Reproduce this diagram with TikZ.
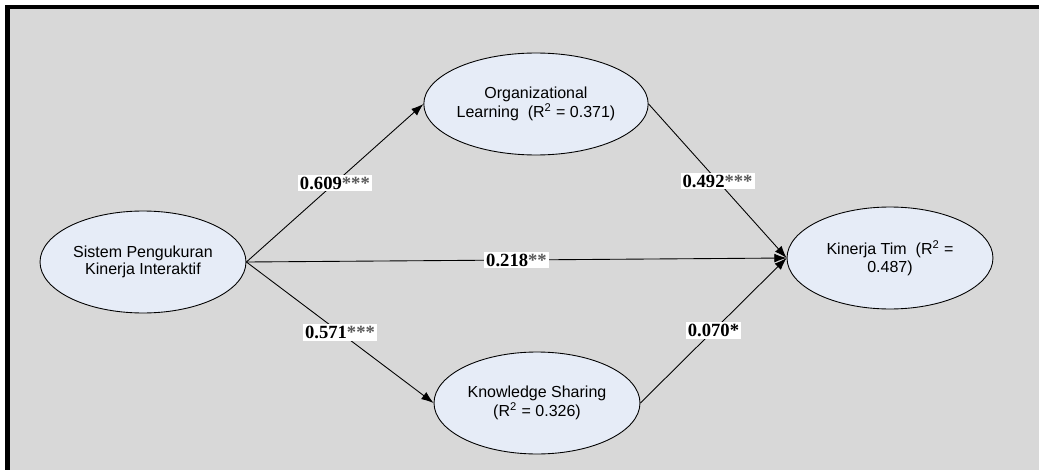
\documentclass[tikz,border=0pt]{standalone}
\usepackage{fontspec}
\setmainfont{Liberation Sans}
\newfontfamily\coeffont{Liberation Serif}
\usepackage{tikz}
\usetikzlibrary{arrows.meta,shapes.geometric,positioning}
\definecolor{bggrey}{RGB}{216,216,216}
\definecolor{latentblue}{RGB}{230,236,247}
\tikzset{%
	latent/.style   = {draw, ellipse, fill=latentblue, line width=0.5pt, minimum width=4.12cm, minimum height=2.04cm, inner sep=0pt, align=center, font=\fontsize{9.1pt}{10pt}\selectfont}, % Construct
	coef/.style     = {fill=white, inner sep=1.2pt, font=\coeffont\fontsize{10.6pt}{12pt}\selectfont\bfseries}, % Path coefficient
	path/.style     = {line width=0.5pt, -{Latex[length=7pt,width=5pt]}}, % Path
}
\newcommand{\stars}[1]{{\color{black!65}#1}}
\begin{document}
\begin{tikzpicture}[x=0.02cm, y=-0.02cm]
	\useasboundingbox (0,0) rectangle (1039,470);
	% background and frame
	\fill[bggrey] (7,7) rectangle (1039,470);
	\draw[line width=2.6pt] (7.5,470) -- (7.5,7) -- (1039,7);

	\node[latent] (spki) at (143,262) {Sistem Pengukuran\\Kinerja Interaktif};
	\node[latent] (ol) at (536,104) {Organizational\\Learning~~(R\textsuperscript{2} = 0.371)};
	\node[latent] (ks) at (537,403) {Knowledge Sharing\\(R\textsuperscript{2} = 0.326)};
	\node[latent] (kt) at (890,258) {Kinerja Tim~~(R\textsuperscript{2} =\\0.487)};

	\draw[path] (spki.east) -- node[coef] {0.609\stars{***}} (ol.west);
	\draw[path] (spki.east) -- node[coef] {0.571\stars{***}} (ks.west);
	\draw[path] (spki.east) -- node[coef] {0.218\stars{**}} (kt.west);
	\draw[path] (ol.east) -- node[coef] {0.492\stars{***}} (kt.west);
	\draw[path] (ks.east) -- node[coef] {0.070*} (kt.west);
\end{tikzpicture}
\end{document}
